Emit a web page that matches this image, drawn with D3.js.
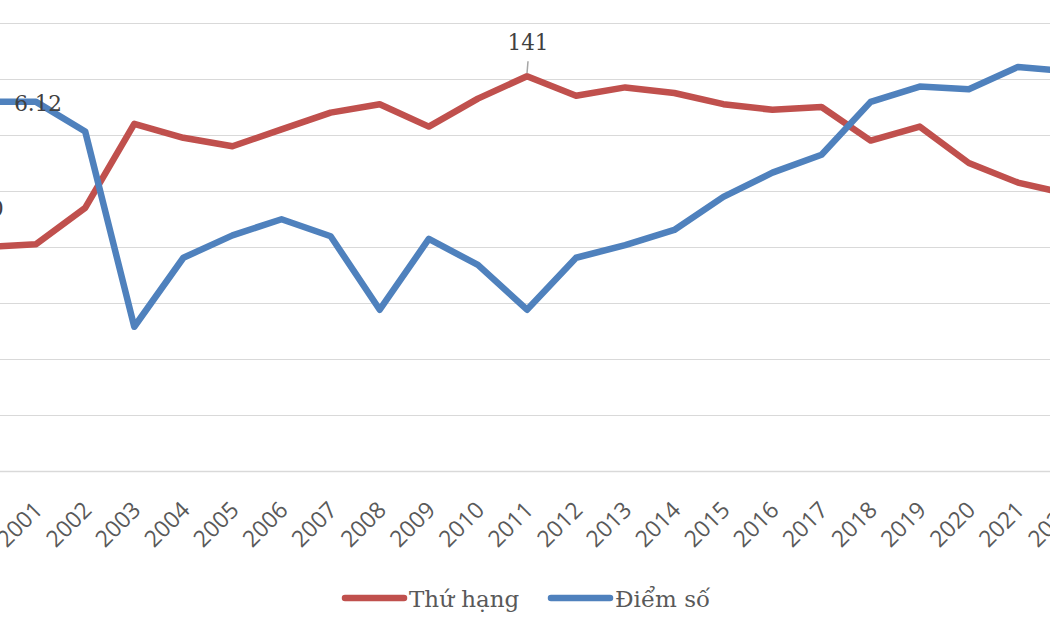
<!DOCTYPE html>
<html>
<head>
<meta charset="utf-8">
<script src="https://cdn.jsdelivr.net/npm/d3@7"></script>
<style>
  body { margin: 0; background: #fff; }
  svg { display: block; }
</style>
</head>
<body>
<svg id="chart" width="1050" height="630"></svg>
<script>
// Data
const years = d3.range(2000, 2023);
const rank = [80, 81, 94, 124, 119, 116, 122, 128, 131, 123, 133, 141, 134, 137, 135, 131, 129, 130, 118, 123, 110, 103, 99];
const score = [6.12, 6.12, 5.79, 3.61, 4.38, 4.63, 4.81, 4.62, 3.80, 4.59, 4.30, 3.80, 4.38, 4.52, 4.69, 5.06, 5.33, 5.53, 6.12, 6.29, 6.26, 6.51, 6.46];
const seriesNames = ['Thứ hạng', 'Điểm số'];
const rankTicks = [0, 20, 40, 60, 80, 100, 120, 140, 160];

const width = 1050, height = 630;
const colours = { rank: '#C0504D', score: '#4F81BD' };
const serif = '"DejaVu Serif", serif';
const sans = '"Open Sans", "Liberation Sans", sans-serif';

const svg = d3.select('#chart');

// scales - the chart is cut off on both sides, so 2000 and 2022 sit outside
const x = d3.scalePoint().domain(years).range([-13, 1067]);
const yRank = d3.scaleLinear().domain([0, 160]).range([471, 23]);
const yScore = d3.scaleLinear().domain([2, 7]).range([471, 23]);

// gridlines
svg.append('g')
    .attr('class', 'grid')
    .selectAll('line')
    .data(rankTicks)
    .enter()
      .append('line')
      .attr('x1', -40)
      .attr('x2', width + 40)
      .attr('y1', d => Math.round(yRank(d)) + 0.5)
      .attr('y2', d => Math.round(yRank(d)) + 0.5)
      .attr('stroke', '#d9d9d9')
      .attr('stroke-width', d => d === 0 ? 1.5 : 1.2);

// x axis labels, rotated
const xAxis = svg.append('g')
    .attr('transform', 'translate(0,' + yRank(0) + ')')
    .call(d3.axisBottom(x).tickSize(0).tickPadding(0));
xAxis.select('.domain').remove();
xAxis.selectAll('text')
    .attr('y', 0)
    .attr('dy', 0)
    .attr('transform', 'translate(1,34) rotate(-45)')
    .style('text-anchor', 'end')
    .style('dominant-baseline', 'central')
    .style('font-family', sans)
    .style('font-size', '23px')
    .style('fill', '#595959');

// lines
const rankLine = d3.line().x((d, i) => x(years[i])).y(d => yRank(d));
const scoreLine = d3.line().x((d, i) => x(years[i])).y(d => yScore(d));

svg.append('path')
    .datum(rank)
    .attr('d', rankLine)
    .attr('fill', 'none')
    .attr('stroke', colours.rank)
    .attr('stroke-width', 6.5)
    .attr('stroke-linejoin', 'round');

svg.append('path')
    .datum(score)
    .attr('d', scoreLine)
    .attr('fill', 'none')
    .attr('stroke', colours.score)
    .attr('stroke-width', 6.5)
    .attr('stroke-linejoin', 'round');

// data labels
const labels = [
  { text: d3.format('.2f')(score[1]), x: x(2001) + 2, y: yScore(score[1]) + 2 },
  { text: String(rank[11]), x: x(2011) + 1, y: yRank(rank[11]) - 34, leader: true, ly: yRank(rank[11]) },
  { text: String(rank[0]), x: x(2000) + 3, y: yRank(rank[0]) - 39 }
];

const lab = svg.append('g').attr('class', 'labels');
lab.selectAll('line')
    .data(labels.filter(d => d.leader))
    .enter()
      .append('line')
      .attr('x1', d => d.x)
      .attr('x2', d => d.x - 1)
      .attr('y1', d => d.y + 19)
      .attr('y2', d => d.ly - 3)
      .attr('stroke', '#a6a6a6')
      .attr('stroke-width', 1.5);
lab.selectAll('text')
    .data(labels)
    .enter()
      .append('text')
      .text(d => d.text)
      .attr('x', d => d.x)
      .attr('y', d => d.y)
      .style('text-anchor', 'middle')
      .style('dominant-baseline', 'central')
      .style('font-family', serif)
      .style('font-size', '21.5px')
      .style('fill', '#404040');

// legend
const legend = svg.append('g')
    .attr('class', 'legend')
    .selectAll('g')
    .data(seriesNames)
    .enter()
      .append('g')
      .attr('transform', (d, i) => 'translate(' + [342, 548][i] + ',598)');

legend.append('line')
    .attr('x1', 3)
    .attr('x2', 62)
    .attr('stroke', (d, i) => i === 0 ? colours.rank : colours.score)
    .attr('stroke-width', 6.5)
    .attr('stroke-linecap', 'round');

legend.append('text')
    .text(d => d)
    .attr('x', 67)
    .attr('y', 1)
    .style('dominant-baseline', 'central')
    .style('font-family', serif)
    .style('font-size', '23px')
    .style('fill', '#595959');
</script>
</body>
</html>
